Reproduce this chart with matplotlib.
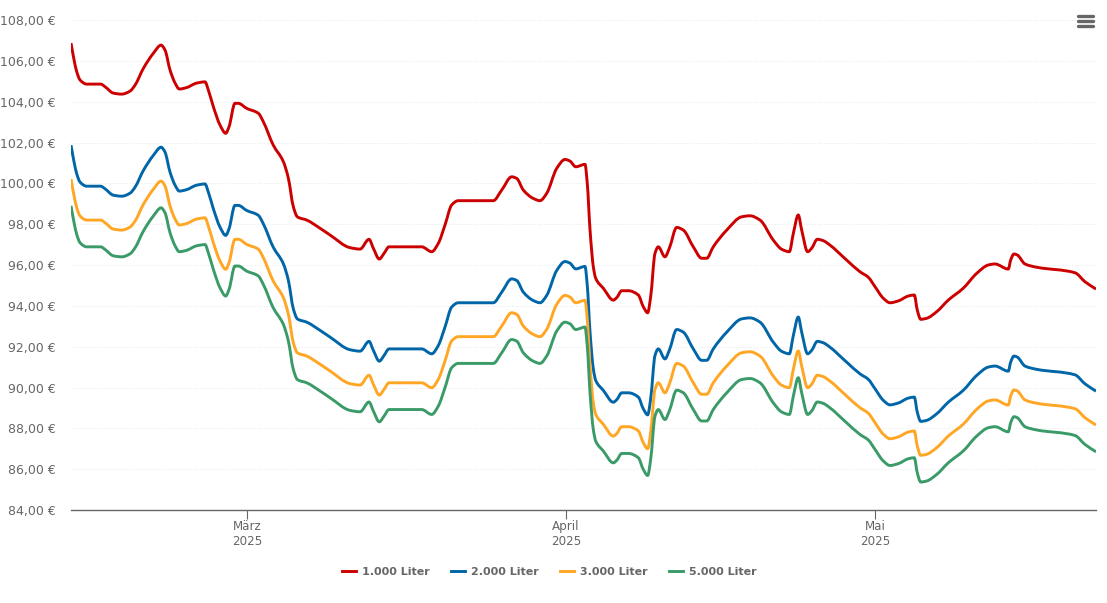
import matplotlib
matplotlib.use("Agg")
import matplotlib.pyplot as plt
import numpy as np
from matplotlib.lines import Line2D
from matplotlib.patches import PathPatch
from matplotlib.path import Path

# Tage relativ zum 1. Maerz 2025
days = [
    -17.10, -16.80, -16.54, -16.22, -15.57, -14.21, -13.79, -12.99, -12.17, -11.36,
    -10.88, -10.07, -9.10, -8.35, -7.97, -7.48, -6.99, -6.58, -5.93, -4.89,
    -4.08, -3.76, -3.27, -2.62, -2.07, -1.75, -1.17, -0.85, -0.03, 1.10,
    1.58, 2.55, 3.53, 4.01, 4.50, 4.89, 5.80, 7.09, 8.06, 10.00,
    10.98, 11.85, 12.27, 12.85, 13.31, 13.79, 16.97, 17.94, 18.58, 19.23,
    19.88, 20.52, 23.92, 24.74, 25.71, 26.20, 26.84, 27.81, 28.46, 29.11,
    30.08, 30.89, 31.37, 31.93, 32.83, 33.05, 33.32, 33.64, 33.87, 34.61,
    35.58, 35.91, 36.40, 37.04, 38.01, 38.49, 38.92, 39.21, 39.63, 39.95,
    40.60, 41.02, 41.74, 42.38, 43.35, 44.17, 44.65, 45.29, 46.60, 48.05,
    48.86, 49.83, 51.12, 51.94, 52.68, 53.07, 53.55, 53.88, 54.46, 54.85,
    55.40, 55.98, 56.56, 58.25, 59.54, 60.35, 61.00, 61.81, 62.46, 63.26,
    64.24, 64.82, 65.11, 65.44, 66.02, 66.99, 68.12, 69.57, 70.88, 72.01,
    72.66, 73.95, 74.18, 74.50, 74.82, 75.57, 76.71, 80.43, 81.40, 82.47,
]

liter_1000 = [
    106.87, 106.04, 105.46, 105.06, 104.86, 104.86, 104.73, 104.42, 104.37, 104.52,
    104.81, 105.63, 106.37, 106.77, 106.53, 105.55, 104.91, 104.62, 104.68, 104.91,
    104.97, 104.57, 103.75, 102.85, 102.45, 102.77, 103.92, 103.92, 103.67, 103.43,
    103.02, 101.87, 101.06, 100.26, 98.85, 98.36, 98.20, 97.80, 97.47, 96.85,
    96.78, 97.26, 96.82, 96.29, 96.57, 96.89, 96.89, 96.65, 97.06, 97.96,
    98.94, 99.15, 99.15, 99.67, 100.32, 100.24, 99.67, 99.26, 99.15, 99.51,
    100.73, 101.17, 101.09, 100.81, 100.93, 100.01, 97.71, 95.91, 95.35, 94.86,
    94.28, 94.40, 94.74, 94.74, 94.53, 93.96, 93.66, 94.45, 96.57, 96.89,
    96.40, 96.82, 97.84, 97.71, 96.89, 96.33, 96.33, 96.89, 97.71, 98.36,
    98.41, 98.20, 97.22, 96.77, 96.65, 97.55, 98.45, 97.71, 96.65, 96.82,
    97.26, 97.19, 97.00, 96.24, 95.67, 95.40, 94.94, 94.37, 94.15, 94.24,
    94.48, 94.53, 93.79, 93.34, 93.39, 93.71, 94.28, 94.86, 95.59, 96.00,
    96.05, 95.80, 96.24, 96.54, 96.49, 96.05, 95.89, 95.62, 95.18, 94.82,
]

liter_2000 = [
    101.87, 101.04, 100.46, 100.06, 99.86, 99.86, 99.73, 99.42, 99.37, 99.52,
    99.81, 100.63, 101.37, 101.77, 101.53, 100.55, 99.91, 99.62, 99.68, 99.91,
    99.97, 99.57, 98.75, 97.85, 97.45, 97.77, 98.92, 98.92, 98.67, 98.43,
    98.02, 96.87, 96.06, 95.26, 93.85, 93.36, 93.20, 92.80, 92.47, 91.85,
    91.78, 92.26, 91.82, 91.29, 91.57, 91.89, 91.89, 91.65, 92.06, 92.96,
    93.94, 94.15, 94.15, 94.67, 95.32, 95.24, 94.67, 94.26, 94.15, 94.51,
    95.73, 96.17, 96.09, 95.81, 95.93, 95.01, 92.71, 90.91, 90.35, 89.86,
    89.28, 89.40, 89.74, 89.74, 89.53, 88.96, 88.66, 89.45, 91.57, 91.89,
    91.40, 91.82, 92.84, 92.71, 91.89, 91.33, 91.33, 91.89, 92.71, 93.36,
    93.41, 93.20, 92.22, 91.77, 91.65, 92.55, 93.45, 92.71, 91.65, 91.82,
    92.26, 92.19, 92.00, 91.24, 90.67, 90.40, 89.94, 89.37, 89.15, 89.24,
    89.48, 89.53, 88.79, 88.34, 88.39, 88.71, 89.28, 89.86, 90.59, 91.00,
    91.05, 90.80, 91.24, 91.54, 91.49, 91.05, 90.89, 90.62, 90.18, 89.82,
]

liter_3000 = [
    100.21, 99.38, 98.80, 98.40, 98.20, 98.20, 98.07, 97.76, 97.71, 97.86,
    98.15, 98.97, 99.71, 100.11, 99.87, 98.89, 98.25, 97.96, 98.02, 98.25,
    98.31, 97.91, 97.09, 96.19, 95.79, 96.11, 97.26, 97.26, 97.01, 96.77,
    96.36, 95.21, 94.40, 93.60, 92.19, 91.70, 91.54, 91.14, 90.81, 90.19,
    90.12, 90.60, 90.16, 89.63, 89.91, 90.23, 90.23, 89.99, 90.40, 91.30,
    92.28, 92.49, 92.49, 93.01, 93.66, 93.58, 93.01, 92.60, 92.49, 92.85,
    94.07, 94.51, 94.43, 94.15, 94.27, 93.35, 91.05, 89.25, 88.69, 88.20,
    87.62, 87.74, 88.08, 88.08, 87.87, 87.30, 87.00, 87.79, 89.91, 90.23,
    89.74, 90.16, 91.18, 91.05, 90.23, 89.67, 89.67, 90.23, 91.05, 91.70,
    91.75, 91.54, 90.56, 90.11, 89.99, 90.89, 91.79, 91.05, 89.99, 90.16,
    90.60, 90.53, 90.34, 89.58, 89.01, 88.74, 88.28, 87.71, 87.49, 87.58,
    87.82, 87.87, 87.13, 86.68, 86.73, 87.05, 87.62, 88.20, 88.93, 89.34,
    89.39, 89.14, 89.58, 89.88, 89.83, 89.39, 89.23, 88.96, 88.52, 88.16,
]

liter_5000 = [
    98.90, 98.07, 97.49, 97.09, 96.89, 96.89, 96.76, 96.45, 96.40, 96.55,
    96.84, 97.66, 98.40, 98.80, 98.56, 97.58, 96.94, 96.65, 96.71, 96.94,
    97.00, 96.60, 95.78, 94.88, 94.48, 94.80, 95.95, 95.95, 95.70, 95.46,
    95.05, 93.90, 93.09, 92.29, 90.88, 90.39, 90.23, 89.83, 89.50, 88.88,
    88.81, 89.29, 88.85, 88.32, 88.60, 88.92, 88.92, 88.68, 89.09, 89.99,
    90.97, 91.18, 91.18, 91.70, 92.35, 92.27, 91.70, 91.29, 91.18, 91.54,
    92.76, 93.20, 93.12, 92.84, 92.96, 92.04, 89.74, 87.94, 87.38, 86.89,
    86.31, 86.43, 86.77, 86.77, 86.56, 85.99, 85.69, 86.48, 88.60, 88.92,
    88.43, 88.85, 89.87, 89.74, 88.92, 88.36, 88.36, 88.92, 89.74, 90.39,
    90.44, 90.23, 89.25, 88.80, 88.68, 89.58, 90.48, 89.74, 88.68, 88.85,
    89.29, 89.22, 89.03, 88.27, 87.70, 87.43, 86.97, 86.40, 86.18, 86.27,
    86.51, 86.56, 85.82, 85.37, 85.42, 85.74, 86.31, 86.89, 87.62, 88.03,
    88.08, 87.83, 88.27, 88.57, 88.52, 88.08, 87.92, 87.65, 87.21, 86.85,
]

series_names = ["1.000 Liter", "2.000 Liter", "3.000 Liter", "5.000 Liter"]
series_values = [liter_1000, liter_2000, liter_3000, liter_5000]
series_colors = ["#cc0000", "#0066a8", "#ffa624", "#3a9a68"]

y_ticks = list(range(84, 110, 2))
x_ticks = [0, 31, 61]
x_labels = ["März\n2025", "April\n2025", "Mai\n2025"]

W, H = 1107, 603
GREY = "#666666"


def spline_path(xs, ys):
    # glatte Kurve ohne Ueberschwingen: Steigung 0 an Extremen, sonst harmonisches Mittel
    xs = np.asarray(xs)
    ys = np.asarray(ys)
    steps = np.diff(ys) / np.diff(xs)
    slopes = np.zeros(len(xs))
    slopes[0] = steps[0]
    slopes[-1] = steps[-1]
    for i in range(1, len(xs) - 1):
        if steps[i - 1] * steps[i] > 0:
            w1 = 2 * (xs[i + 1] - xs[i]) + (xs[i] - xs[i - 1])
            w2 = (xs[i + 1] - xs[i]) + 2 * (xs[i] - xs[i - 1])
            slopes[i] = (w1 + w2) / (w1 / steps[i - 1] + w2 / steps[i])
    verts = [(xs[0], ys[0])]
    codes = [Path.MOVETO]
    for i in range(len(xs) - 1):
        dx = (xs[i + 1] - xs[i]) / 3
        verts.append((xs[i] + dx, ys[i] + slopes[i] * dx))
        verts.append((xs[i + 1] - dx, ys[i + 1] - slopes[i + 1] * dx))
        verts.append((xs[i + 1], ys[i + 1]))
        codes += [Path.CURVE4] * 3
    return Path(verts, codes)


fig = plt.figure(figsize=(W / 100, H / 100), dpi=100)
ax = fig.add_axes([71 / W, 1 - 510 / H, (1096 - 71) / W, (510 - 20) / H])
ax.set_xlim(-17.10, 82.47)
ax.set_ylim(84, 108)

for name, values, color in zip(series_names, series_values, series_colors):
    patch = PathPatch(spline_path(days, values), fill=False, edgecolor=color, lw=2.1,
                      capstyle="butt", joinstyle="round", zorder=3)
    ax.add_patch(patch)

for spine in ["top", "right", "left"]:
    ax.spines[spine].set_visible(False)
ax.spines["bottom"].set_color(GREY)
ax.spines["bottom"].set_linewidth(1.0)

ax.grid(axis="y", color="#e6e6e6", lw=0.7, ls=(0, (1, 2)))
ax.set_axisbelow(True)
ax.set_yticks(y_ticks)
ax.set_yticklabels([f"{v},00 €" for v in y_ticks])
ax.tick_params(axis="y", length=0, pad=10.8, labelsize=9.0, labelcolor=GREY)
ax.set_xticks(x_ticks)
ax.set_xticklabels(x_labels, linespacing=1.15)
ax.tick_params(axis="x", length=6.5, width=0.8, color=GREY, pad=1, labelsize=8.6, labelcolor=GREY)

# Legende
handles = [Line2D([], [], color=c, lw=2.1) for c in series_colors]
fig.legend(handles, series_names, loc="center", bbox_to_anchor=(549 / W, 1 - 572 / H), ncol=4,
           frameon=False, handlelength=1.27, handletextpad=0.55, columnspacing=1.9,
           prop={"size": 8.0, "weight": "bold"}, labelcolor=GREY)

# Menue-Symbol oben rechts
for py in [16, 21, 26]:
    fig.add_artist(Line2D([1078 / W, 1093 / W], [1 - py / H, 1 - py / H], color=GREY, lw=2.4,
                          solid_capstyle="round"))

fig.savefig("out.png", dpi=100)
